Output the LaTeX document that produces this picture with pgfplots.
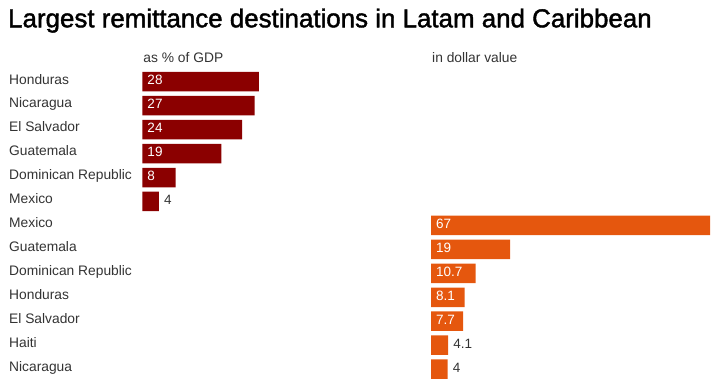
\documentclass[border=0pt]{standalone}
\usepackage{pgfplots}
\pgfplotsset{compat=1.18}
\usepackage{fontspec}
\setmainfont{Liberation Sans}
\newfontfamily\titlefont{Liberation Sans}[FakeBold=1.6]
\definecolor{gdpred}{HTML}{8B0000}
\definecolor{usdorange}{HTML}{E5570E}
\definecolor{txt}{HTML}{333333}
\tikzset{sub/.style={anchor=base west, inner sep=0pt, xshift=1bp, yshift=7.2bp, text=txt, font=\fontsize{13.8bp}{15bp}\selectfont}}
\begin{document}
\begin{tikzpicture}
\path[use as bounding box] (0,0) rectangle (715bp,391bp);
\node[anchor=base west, inner sep=0pt, font=\titlefont\fontsize{25.9bp}{28bp}\selectfont, text=black] at (8bp,363.7bp) {Largest remittance destinations in Latam and Caribbean};
\pgfplotsset{
  every axis/.append style={
    scale only axis, width=279bp, height=311.35bp,
    xmin=0, xmax=67, ymin=-0.5, ymax=12.5, y dir=reverse,
    axis line style={draw=none}, major tick length=0pt,
    xtick=\empty, clip=false, anchor=south west,
  },
  vals/.style={draw=none, mark=none, nodes near coords, point meta=explicit symbolic,
    every node near coord/.append style={anchor=base west, inner sep=0pt, xshift=5bp, yshift=-3bp,
      font=\fontsize{13.5bp}{15bp}\selectfont}},
}
% left panel: as % of GDP
\begin{axis}[at={(142.3bp,9.9bp)},
  ytick={0,1,2,3,4,5,6,7,8,9,10,11,12},
  yticklabels={Honduras,Nicaragua,El Salvador,Guatemala,Dominican Republic,Mexico,Mexico,Guatemala,Dominican Republic,Honduras,El Salvador,Haiti,Nicaragua},
  yticklabel style={anchor=base west, inner sep=0pt, xshift=-133.3bp, yshift=-2.3bp, text=txt, font=\fontsize{13.8bp}{15bp}\selectfont},
]
\addplot[xbar, bar width=19.5bp, fill=gdpred, draw=none] coordinates {(28,0) (27,1) (24,2) (19,3) (8,4) (4,5)};
\addplot[vals, every node near coord/.append style={text=white}] coordinates {(0,0)[28] (0,1)[27] (0,2)[24] (0,3)[19] (0,4)[8]};
\addplot[vals, every node near coord/.append style={text=txt}] coordinates {(4,5)[4]};
\node[sub] at (rel axis cs:0,1) {as \% of GDP};
\end{axis}
% right panel: in dollar value
\begin{axis}[at={(431bp,9.9bp)}, ytick=\empty]
\addplot[xbar, bar width=19.5bp, fill=usdorange, draw=none] coordinates {(67,6) (19,7) (10.7,8) (8.1,9) (7.7,10) (4.1,11) (4,12)};
\addplot[vals, every node near coord/.append style={text=white}] coordinates {(0,6)[67] (0,7)[19] (0,8)[10.7] (0,9)[8.1] (0,10)[7.7]};
\addplot[vals, every node near coord/.append style={text=txt}] coordinates {(4.1,11)[4.1] (4,12)[4]};
\node[sub] at (rel axis cs:0,1) {in dollar value};
\end{axis}
\end{tikzpicture}
\end{document}
